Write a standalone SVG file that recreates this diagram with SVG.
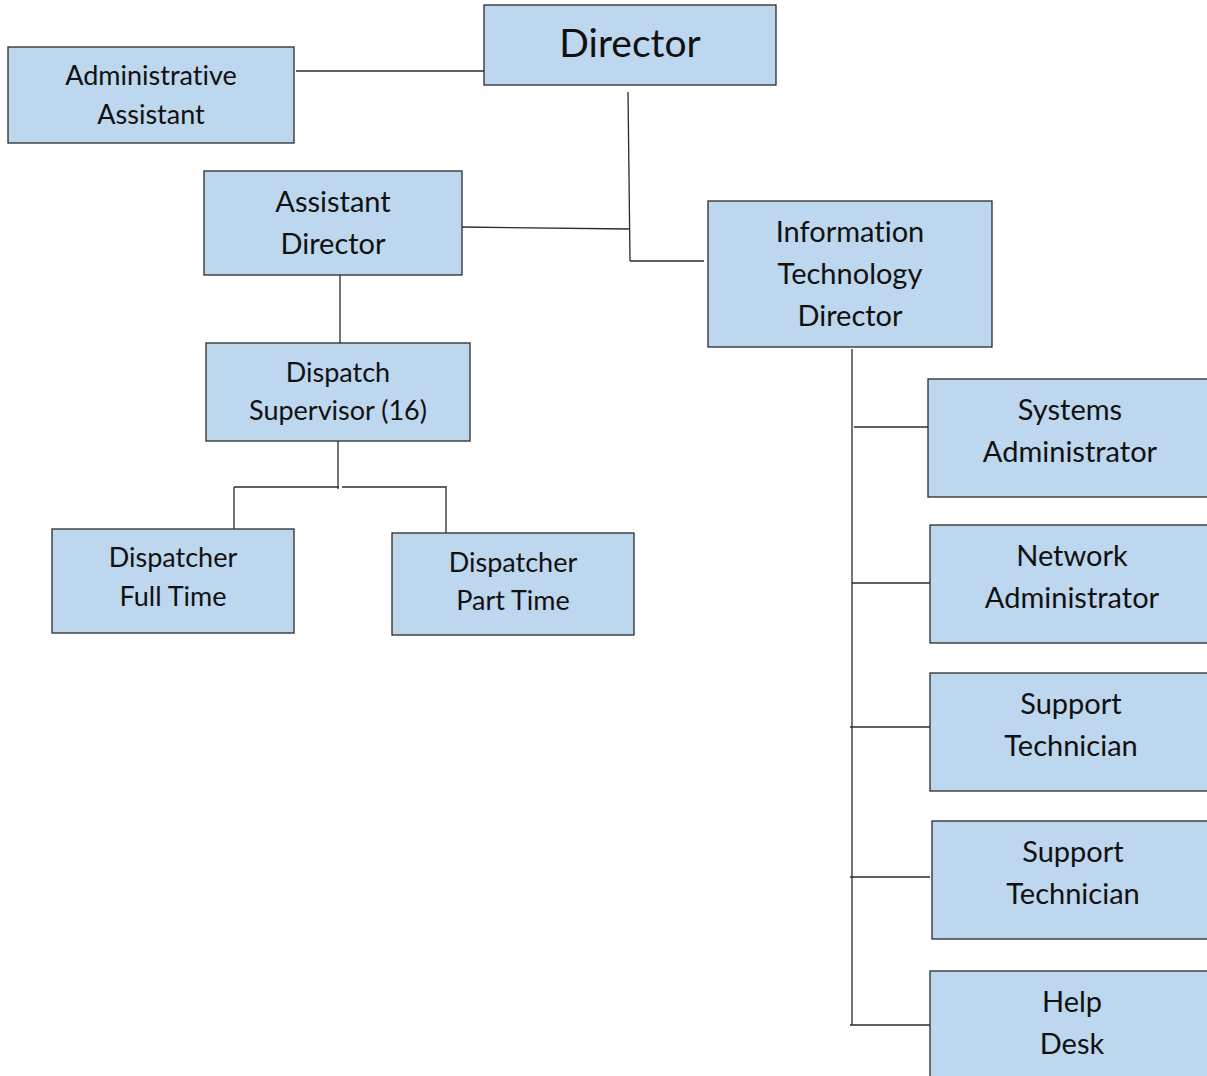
<svg xmlns="http://www.w3.org/2000/svg" width="1207" height="1076" viewBox="0 0 1207 1076">
<style>
.box{fill:#BDD7EE;stroke:#2b2b2b;stroke-width:1.3}
.t{font-family:Lato,"Open Sans",sans-serif;font-size:27px;fill:#111;text-anchor:middle;font-variant-ligatures:none;font-feature-settings:"liga" 0,"dlig" 0}
.l{font-size:29px}
.c{stroke:#2b2b2b;stroke-width:1.3;fill:none}
</style>
<rect width="1207" height="1076" fill="#fff"/>
<g id="connectors">
<line class="c" x1="296" y1="71" x2="486" y2="71"/>
<line class="c" x1="628" y1="92" x2="630" y2="261"/>
<line class="c" x1="630" y1="261" x2="704" y2="261"/>
<line class="c" x1="462" y1="227" x2="630" y2="229"/>
<line class="c" x1="340" y1="275" x2="340" y2="345"/>
<line class="c" x1="338" y1="441" x2="338" y2="489"/>
<line class="c" x1="234" y1="487" x2="339" y2="487"/>
<line class="c" x1="342" y1="487" x2="447" y2="487"/>
<line class="c" x1="234" y1="487" x2="234" y2="529"/>
<line class="c" x1="446" y1="488" x2="446" y2="533"/>
<line class="c" x1="852" y1="349" x2="852" y2="1025"/>
<line class="c" x1="854" y1="427" x2="930" y2="427"/>
<line class="c" x1="852" y1="583" x2="930" y2="583"/>
<line class="c" x1="850" y1="727" x2="930" y2="727"/>
<line class="c" x1="850" y1="877" x2="930" y2="877"/>
<line class="c" x1="850" y1="1025" x2="930" y2="1025"/>
</g>
<g id="director"><rect class="box" x="484" y="5" width="292" height="80"/><text class="t" x="630" y="57" style="font-size:39px">Director</text></g>
<g id="admin-assistant"><rect class="box" x="8" y="47" width="286" height="96"/><text class="t" x="151" y="85">Administrative</text><text class="t" x="151" y="124">Assistant</text></g>
<g id="assistant-director"><rect class="box" x="204" y="171" width="258" height="104"/><text class="t l" x="333" y="212">Assistant</text><text class="t l" x="333" y="254">Director</text></g>
<g id="it-director"><rect class="box" x="708" y="201" width="284" height="146"/><text class="t l" x="850" y="242">Information</text><text class="t l" x="850" y="284">Technology</text><text class="t l" x="850" y="326">Director</text></g>
<g id="dispatch-supervisor"><rect class="box" x="206" y="343" width="264" height="98"/><text class="t" x="338" y="382">Dispatch</text><text class="t" x="338" y="420">Supervisor (16)</text></g>
<g id="dispatcher-full"><rect class="box" x="52" y="529" width="242" height="104"/><text class="t" x="173" y="567">Dispatcher</text><text class="t" x="173" y="606">Full Time</text></g>
<g id="dispatcher-part"><rect class="box" x="392" y="533" width="242" height="102"/><text class="t" x="513" y="572">Dispatcher</text><text class="t" x="513" y="610">Part Time</text></g>
<g id="systems-admin"><rect class="box" x="928" y="379" width="290" height="118"/><text class="t l" x="1070" y="420">Systems</text><text class="t l" x="1070" y="462">Administrator</text></g>
<g id="network-admin"><rect class="box" x="930" y="525" width="290" height="118"/><text class="t l" x="1072" y="566">Network</text><text class="t l" x="1072" y="608">Administrator</text></g>
<g id="support-tech-1"><rect class="box" x="930" y="673" width="290" height="118"/><text class="t l" x="1071" y="714">Support</text><text class="t l" x="1071" y="756">Technician</text></g>
<g id="support-tech-2"><rect class="box" x="932" y="821" width="290" height="118"/><text class="t l" x="1073" y="862">Support</text><text class="t l" x="1073" y="904">Technician</text></g>
<g id="help-desk"><rect class="box" x="930" y="971" width="290" height="118"/><text class="t l" x="1072" y="1012">Help</text><text class="t l" x="1072" y="1054">Desk</text></g>
</svg>
